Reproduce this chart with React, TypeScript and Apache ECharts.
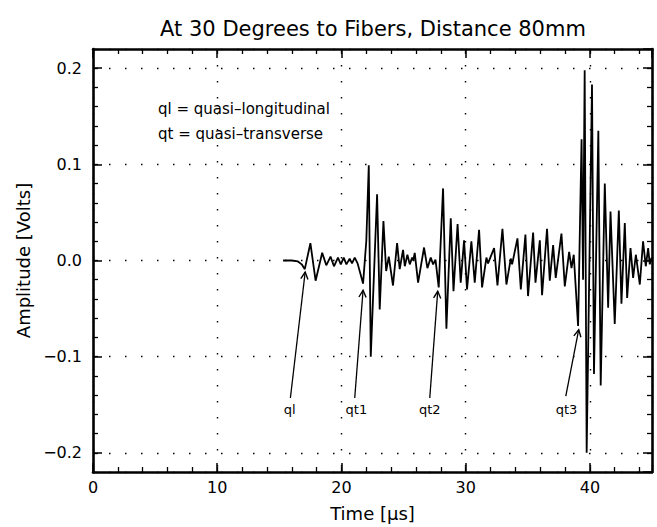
import React, { useEffect, useRef } from "react";
import * as echarts from "echarts";

// ---- data ----
const waveTime = [
  15.3, 16.0, 16.5, 16.8, 17.05, 17.5, 17.92, 18.45, 18.78, 19.12, 19.4, 19.72, 19.95, 20.18, 20.4, 20.66, 20.85,
  21.07, 21.3, 21.74, 22.0, 22.2, 22.36, 22.87, 23.08, 23.38, 23.6, 23.81, 24.15, 24.48, 24.69, 24.96, 25.1, 25.31,
  25.5, 25.69, 25.78, 25.9, 26.17, 26.65, 26.92, 27.19, 27.38, 27.57, 27.83, 28.18, 28.45, 28.8, 29.02, 29.35, 29.6,
  29.87, 30.11, 30.46, 30.73, 31.08, 31.32, 31.67, 31.8, 32.29, 32.56, 32.96, 33.28, 33.63, 33.74, 34.17, 34.44,
  34.81, 35.02, 35.43, 35.62, 35.97, 36.15, 36.55, 36.77, 37.04, 37.25, 37.71, 37.98, 38.33, 38.52, 38.7, 39.05,
  39.33, 39.45, 39.58, 39.74, 40.17, 40.33, 40.68, 40.87, 41.2, 41.47, 41.66, 42.0, 42.33, 42.54, 42.81, 43.0,
  43.27, 43.48, 43.7, 44.02, 44.28, 44.5, 44.69, 44.82, 44.96,
];
const waveAmplitude = [
  0.0, 0.0, -0.001, -0.004, -0.009, 0.018, -0.021, 0.008, -0.005, 0.004, -0.006, 0.003, -0.004, 0.003, -0.004, 0.002,
  -0.003, 0.003, -0.003, -0.024, 0.02, 0.099, -0.1, 0.069, -0.051, 0.041, -0.011, 0.004, -0.026, 0.018, -0.009, 0.011,
  -0.006, 0.006, -0.004, 0.003, 0.0, 0.008, -0.023, 0.0135, -0.008, 0.003, -0.004, 0.001, -0.028, 0.075, -0.071,
  0.044, -0.032, 0.038, -0.023, 0.021, -0.03, 0.02, -0.023, 0.032, -0.028, 0.003, -0.003, 0.013, -0.026, 0.033,
  -0.025, 0.002, -0.004, 0.023, -0.03, 0.027, -0.037, 0.029, -0.023, 0.021, -0.036, 0.033, -0.021, 0.016, -0.018,
  0.028, -0.027, 0.009, -0.008, 0.006, -0.068, 0.126, -0.02, 0.198, -0.2, 0.183, -0.118, 0.135, -0.13, 0.08, -0.049,
  0.051, -0.066, 0.052, -0.045, 0.039, -0.039, 0.013, -0.018, 0.006, -0.025, 0.02, -0.006, 0.013, -0.004, 0.003,
];

const arrowLabels = ["ql", "qt1", "qt2", "qt3"];
const arrowTipTime = [17.08, 21.74, 27.75, 39.1];
const arrowTipAmp = [-0.012, -0.031, -0.032, -0.072];
const arrowTailTime = [15.89, 21.07, 27.11, 38.06];
const arrowTailAmp = [-0.143, -0.143, -0.143, -0.141];
const labelTime = [15.84, 21.2, 27.11, 38.12];
const labelAmp = [-0.155, -0.155, -0.155, -0.155];

const titleText = "At 30 Degrees to Fibers, Distance 80mm";
const legendLines = ["ql = quasi\u2013longitudinal", "qt = quasi\u2013transverse"];
const xAxisName = "Time [\u03bcs]";
const yAxisName = "Amplitude [Volts]";

const xMin = 0;
const xMax = 45;
const xMajor = 10;
const xMinor = 2;
const yMin = -0.22;
const yMax = 0.22;
const yMinor = 0.02;

const FONT = "DejaVu Sans";
const INK = "#000";

function fmtY(v: number) {
  if (Math.abs(v) < 1e-9) return "0.0";
  const s = Math.abs(v).toFixed(1);
  return v < 0 ? "\u2212" + s : s;
}

export default function App() {
  const ref = useRef<HTMLDivElement>(null);
  useEffect(() => {
    if (!ref.current) return;
    const chart = echarts.init(ref.current, null, { renderer: "svg" });

    const dotted = { type: [1.5, 14.5] as any, color: INK, width: 1.4 };
    const frameLine = { show: true, onZero: false, lineStyle: { color: INK, width: 2.6 } };
    const noLine = { show: false, onZero: false };

    const xMajorAxis = (position: string, labels: boolean) => ({
      type: "value",
      position,
      min: xMin,
      max: xMax,
      interval: xMajor,
      axisLine: frameLine,
      axisTick: { show: true, inside: true, length: 9, lineStyle: { color: INK, width: 1.5 } },
      axisLabel: labels
        ? { show: true, margin: 7, fontSize: 16, color: INK, fontFamily: FONT, showMaxLabel: false, showMinLabel: true }
        : { show: false },
      splitLine: labels ? { show: true, lineStyle: dotted } : { show: false },
      ...(labels
        ? {
            name: xAxisName,
            nameLocation: "middle",
            nameGap: 32,
            nameTextStyle: { fontSize: 18, color: INK, fontFamily: FONT },
          }
        : {}),
    });
    const xMinorAxis = (position: string) => ({
      type: "value",
      position,
      min: xMin,
      max: xMax,
      interval: xMinor,
      axisLine: noLine,
      axisTick: { show: true, inside: true, length: 5, lineStyle: { color: INK, width: 1.3 } },
      axisLabel: { show: false },
      splitLine: { show: false },
    });
    const yMajorAxis = (position: string, labels: boolean) => ({
      type: "value",
      position,
      min: yMin,
      max: yMax,
      splitNumber: 4,
      axisLine: frameLine,
      axisTick: { show: true, inside: true, length: 9, lineStyle: { color: INK, width: 1.5 } },
      axisLabel: labels
        ? {
            show: true,
            margin: 11,
            fontSize: 16,
            color: INK,
            fontFamily: FONT,
            showMinLabel: false,
            showMaxLabel: false,
            formatter: fmtY,
          }
        : { show: false },
      splitLine: labels ? { show: true, lineStyle: dotted } : { show: false },
      ...(labels
        ? {
            name: yAxisName,
            nameLocation: "middle",
            nameGap: 57,
            nameTextStyle: { fontSize: 18, color: INK, fontFamily: FONT },
          }
        : {}),
    });
    const yMinorAxis = (position: string) => ({
      type: "value",
      position,
      min: yMin,
      max: yMax,
      interval: yMinor,
      axisLine: noLine,
      axisTick: { show: true, inside: true, length: 5, lineStyle: { color: INK, width: 1.3 } },
      axisLabel: { show: false },
      splitLine: { show: false },
    });

    const renderArrow = (params: any, api: any) => {
      const i = params.dataIndex;
      const tip = api.coord([api.value(0), api.value(1)]);
      const tail = api.coord([api.value(2), api.value(3)]);
      const lab = api.coord([api.value(4), api.value(5)]);
      const dx = tip[0] - tail[0];
      const dy = tip[1] - tail[1];
      const len = Math.sqrt(dx * dx + dy * dy) || 1;
      const ux = dx / len;
      const uy = dy / len;
      const nx = -uy;
      const ny = ux;
      const L = 7;
      const W = 3.6;
      const a1 = [tip[0] - ux * L + nx * W, tip[1] - uy * L + ny * W];
      const a2 = [tip[0] - ux * L - nx * W, tip[1] - uy * L - ny * W];
      return {
        type: "group",
        children: [
          {
            type: "line",
            shape: { x1: tail[0], y1: tail[1], x2: tip[0], y2: tip[1] },
            style: { stroke: INK, lineWidth: 1.3 },
          },
          {
            type: "polyline",
            shape: { points: [a1, tip, a2] },
            style: { stroke: INK, fill: "none", lineWidth: 1.4 },
          },
          {
            type: "text",
            x: lab[0],
            y: lab[1],
            style: {
              text: arrowLabels[i],
              fontSize: 13,
              fontFamily: FONT,
              fill: INK,
              align: "center",
              verticalAlign: "middle",
            },
          },
        ],
      };
    };

    const option: any = {
      animation: false,
      backgroundColor: "#fff",
      grid: { left: 93, right: 5, top: 49, bottom: 51, containLabel: false },
      xAxis: [xMajorAxis("bottom", true), xMinorAxis("bottom"), xMajorAxis("top", false), xMinorAxis("top")],
      yAxis: [yMajorAxis("left", true), yMinorAxis("left"), yMajorAxis("right", false), yMinorAxis("right")],
      graphic: [
        {
          type: "text",
          x: 373,
          y: 29,
          style: { text: titleText, fontSize: 21, fontFamily: FONT, fill: INK, align: "center", verticalAlign: "middle" },
        },
        ...legendLines.map((t, i) => ({
          type: "text",
          x: 158,
          y: 109 + i * 25,
          style: { text: t, fontSize: 15, fontFamily: FONT, fill: INK, align: "left", verticalAlign: "middle" },
        })),
      ],
      series: [
        {
          type: "line",
          xAxisIndex: 0,
          yAxisIndex: 0,
          data: waveTime.map((t, i) => [t, waveAmplitude[i]]),
          showSymbol: false,
          symbol: "none",
          lineStyle: { color: INK, width: 1.8 },
          z: 5,
        },
        {
          type: "custom",
          xAxisIndex: 0,
          yAxisIndex: 0,
          silent: true,
          z: 6,
          encode: { x: [0, 2, 4], y: [1, 3, 5] },
          data: arrowLabels.map((_, i) => [
            arrowTipTime[i],
            arrowTipAmp[i],
            arrowTailTime[i],
            arrowTailAmp[i],
            labelTime[i],
            labelAmp[i],
          ]),
          renderItem: renderArrow,
        },
      ],
    };
    chart.setOption(option);
    return () => chart.dispose();
  }, []);
  return (
    <div
      ref={ref}
      style={{ position: "absolute", left: 0, top: 0, width: 657, height: 527, background: "#fff" }}
    />
  );
}
